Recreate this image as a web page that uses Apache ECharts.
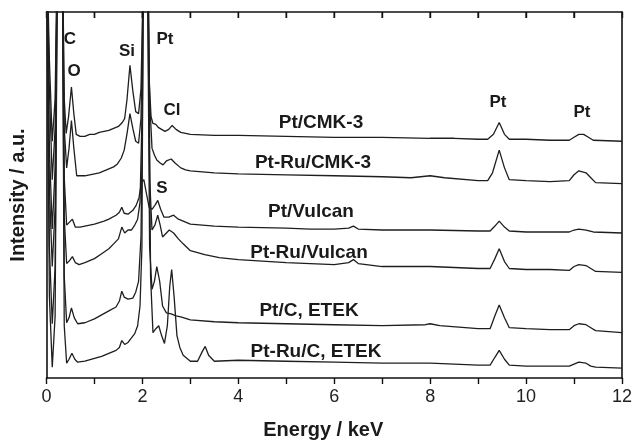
<!DOCTYPE html>
<html><head><meta charset="utf-8">
<script src="https://cdn.jsdelivr.net/npm/echarts@6/dist/echarts.min.js"></script>
<style>html,body{margin:0;padding:0;background:#fff}#c{width:635px;height:445px}</style>
</head><body><div id="c"></div>
<script>
// Energy (keV) and intensity (a.u., traces already vertically offset as in the figure)
const seriesNames = ['Pt/CMK-3','Pt-Ru/CMK-3','Pt/Vulcan','Pt-Ru/Vulcan','Pt/C, ETEK','Pt-Ru/C, ETEK'];

const ptCMK3 = [[0,450],[0.06,323],[0.12,240],[0.18,283],[0.23,450],[0.28,460],[0.33,450],[0.37,283],[0.41,248],[0.46,265],[0.52,295],[0.57,268],[0.62,247],[0.7,245],[0.8,245],[0.9,247],[1.0,247],[1.1,249],[1.2,250],[1.3,251],[1.4,253],[1.5,255],[1.58,259],[1.63,263],[1.68,283],[1.74,317],[1.8,291],[1.86,270],[1.92,268],[1.97,293],[2.0,363],[2.02,450],[2.1,450],[2.14,303],[2.18,265],[2.22,258],[2.28,257],[2.33,254],[2.4,252],[2.47,250],[2.55,252],[2.62,256],[2.7,252],[2.8,249],[2.9,248],[3.0,247],[3.5,246],[4.0,246],[5.0,245],[6.0,244],[7.0,244],[8.0,243],[8.5,243],[9.0,242],[9.2,242],[9.32,247],[9.44,259],[9.55,247],[9.65,242],[10.0,242],[10.5,241],[10.9,241],[11.0,244],[11.1,247],[11.2,247],[11.3,244],[11.4,241],[12.0,240]];

const ptRuCMK3 = [[0,450],[0.06,293],[0.12,201],[0.18,253],[0.23,450],[0.28,460],[0.33,450],[0.37,253],[0.42,213],[0.47,233],[0.52,261],[0.57,233],[0.63,205],[0.7,205],[0.8,205],[0.9,206],[1.0,207],[1.1,208],[1.2,210],[1.3,212],[1.4,214],[1.48,217],[1.56,223],[1.62,231],[1.68,248],[1.74,268],[1.8,253],[1.86,240],[1.92,238],[1.97,263],[2.0,343],[2.02,450],[2.1,450],[2.15,283],[2.2,233],[2.25,226],[2.3,221],[2.37,218],[2.43,216],[2.5,220],[2.6,222],[2.68,218],[2.8,213],[2.9,211],[3.0,210],[3.5,208],[4.0,207],[5.0,206],[6.0,205],[7.0,204],[7.6,203],[8.0,205],[8.3,203],[9.0,200],[9.2,200],[9.3,208],[9.44,231],[9.55,213],[9.65,201],[10.0,200],[10.5,199],[10.9,200],[11.0,206],[11.1,210],[11.25,208],[11.35,203],[11.45,198],[12.0,197]];

const ptVulcan = [[0,450],[0.06,233],[0.12,151],[0.18,213],[0.23,450],[0.28,460],[0.33,450],[0.37,203],[0.42,155],[0.48,158],[0.54,161],[0.6,153],[0.7,153],[0.8,154],[1.0,156],[1.2,159],[1.3,161],[1.45,165],[1.52,168],[1.57,173],[1.62,167],[1.7,166],[1.8,170],[1.87,175],[1.93,183],[1.98,198],[2.03,201],[2.08,188],[2.14,173],[2.2,171],[2.26,175],[2.32,180],[2.38,171],[2.45,163],[2.55,163],[2.65,165],[2.75,161],[2.85,159],[3.0,156],[3.5,154],[4.0,153],[5.0,152],[5.5,151],[6.0,151],[6.3,152],[6.4,154],[6.5,151],[7.0,150],[8.0,150],[9.0,149],[9.25,149],[9.35,154],[9.44,159],[9.55,153],[9.65,149],[10.0,148],[10.5,148],[10.9,148],[11.0,150],[11.1,151],[11.25,150],[11.4,148],[12.0,147]];

const ptRuVulcan = [[0,450],[0.06,193],[0.12,113],[0.18,173],[0.23,450],[0.28,460],[0.33,450],[0.37,163],[0.42,116],[0.48,119],[0.54,123],[0.6,117],[0.68,115],[0.8,117],[1.0,121],[1.15,126],[1.3,131],[1.4,136],[1.5,141],[1.57,153],[1.63,147],[1.7,150],[1.77,150],[1.84,155],[1.9,161],[1.95,178],[2.0,283],[2.02,450],[2.1,450],[2.15,203],[2.2,150],[2.26,155],[2.32,165],[2.37,155],[2.42,143],[2.5,147],[2.56,150],[2.65,147],[2.75,141],[2.85,136],[3.0,129],[3.3,125],[3.6,122],[4.0,120],[5.0,117],[5.5,116],[6.0,115],[6.3,117],[6.4,120],[6.5,116],[7.0,113],[8.0,113],[9.0,111],[9.25,111],[9.35,121],[9.44,131],[9.55,118],[9.65,111],[10.0,110],[10.5,110],[10.9,109],[11.0,113],[11.1,115],[11.25,114],[11.35,111],[11.45,108],[12.0,107]];

const ptCETEK = [[0,450],[0.06,133],[0.12,55],[0.18,113],[0.23,450],[0.28,460],[0.33,450],[0.37,103],[0.42,56],[0.47,61],[0.52,71],[0.58,61],[0.65,55],[0.8,56],[1.0,60],[1.15,64],[1.3,68],[1.45,72],[1.52,78],[1.57,88],[1.62,82],[1.7,80],[1.8,81],[1.86,87],[1.92,98],[1.97,143],[2.0,263],[2.02,450],[2.1,450],[2.15,133],[2.2,90],[2.25,98],[2.3,113],[2.36,98],[2.42,73],[2.5,66],[2.6,65],[2.7,63],[2.8,62],[3.0,59],[3.5,57],[4.0,56],[5.0,55],[6.0,54],[7.0,53],[7.9,54],[8.0,55],[8.2,53],[9.0,50],[9.25,50],[9.35,63],[9.44,74],[9.55,61],[9.65,51],[10.0,50],[10.5,49],[10.9,49],[11.0,53],[11.1,55],[11.25,54],[11.35,51],[11.45,48],[12.0,46]];

const ptRuCETEK = [[0,450],[0.06,83],[0.12,11],[0.18,63],[0.23,450],[0.28,460],[0.33,450],[0.37,53],[0.42,15],[0.47,19],[0.53,25],[0.59,19],[0.65,16],[0.8,17],[1.0,20],[1.15,22],[1.3,25],[1.45,28],[1.52,31],[1.57,38],[1.63,34],[1.7,36],[1.76,40],[1.84,45],[1.9,53],[1.95,73],[1.99,133],[2.02,450],[2.12,450],[2.17,103],[2.22,46],[2.28,50],[2.34,53],[2.4,43],[2.46,35],[2.52,53],[2.57,93],[2.61,110],[2.66,83],[2.72,43],[2.78,31],[2.85,23],[3.0,17],[3.15,17],[3.25,27],[3.31,32],[3.38,23],[3.5,17],[4.0,18],[5.0,17],[6.0,16],[7.0,15],[8.0,15],[9.0,13],[9.25,13],[9.35,21],[9.44,28],[9.55,19],[9.65,13],[10.0,12],[10.5,12],[10.9,12],[11.0,14],[11.1,16],[11.25,15],[11.35,12],[11.45,11],[12.0,10]];

const seriesData = [ptCMK3, ptRuCMK3, ptVulcan, ptRuVulcan, ptCETEK, ptRuCETEK];
const xTicks = [0,2,4,6,8,10,12];
const topTicks = [1,2,3,4,5,6,7,8,9,10,11];
const Y_MAX = 371;

const chart = echarts.init(document.getElementById('c'), null, {renderer:'canvas'});
const FONT = '"Liberation Sans", Arial, Helvetica, sans-serif';
const lbl = (text, x, y, size) => ({type:'text', x:x, y:y, z:100, style:{text:text, fontFamily:FONT, fontWeight:'bold', fontSize:size||18, fill:'#1a1a1a', textAlign:'center', textVerticalAlign:'middle'}});

const lineSeries = seriesData.map((d,i) => ({
  name:seriesNames[i], type:'line', data:d, showSymbol:false, symbol:'none',
  clip:true, lineStyle:{color:'#1e1e1e', width:1.3}, z:2
}));

chart.setOption({
  animation:false,
  backgroundColor:'#fff',
  grid:{left:46.5, right:12, top:12, bottom:62},
  xAxis:[{
    type:'value', min:0, max:12, interval:1,
    name:'Energy / keV', nameLocation:'middle', nameGap:42,
    nameTextStyle:{fontFamily:FONT, fontWeight:'bold', fontSize:20, color:'#1a1a1a', padding:[0,22,0,0]},
    axisLine:{show:true, onZero:false, lineStyle:{color:'#111', width:1.6}},
    axisTick:{show:true, length:6, lineStyle:{color:'#111', width:1.4}},
    axisLabel:{margin:10, fontFamily:FONT, fontSize:18, color:'#222',
      formatter:v => xTicks.indexOf(v) >= 0 ? String(v) : ''},
    splitLine:{show:false}
  },{
    type:'value', position:'top', min:0, max:12, interval:1,
    axisLine:{show:true, onZero:false, lineStyle:{color:'#111', width:1.6}},
    axisTick:{show:true, inside:true, length:6, lineStyle:{color:'#111', width:1.4}},
    axisLabel:{show:true, formatter:() => ''}, splitLine:{show:false}
  }],
  yAxis:[{
    type:'value', min:0, max:Y_MAX,
    name:'Intensity / a.u.', nameLocation:'middle', nameGap:18,
    nameTextStyle:{fontFamily:FONT, fontWeight:'bold', fontSize:20, color:'#1a1a1a'},
    axisLine:{show:true, onZero:false, lineStyle:{color:'#111', width:1.6}},
    axisTick:{show:false}, axisLabel:{show:false}, splitLine:{show:false}
  },{
    type:'value', position:'right', min:0, max:Y_MAX,
    axisLine:{show:true, onZero:false, lineStyle:{color:'#111', width:1.6}},
    axisTick:{show:false}, axisLabel:{show:false}, splitLine:{show:false}
  }],
  series: lineSeries.concat([{
    type:'custom', name:'topTicks', silent:true, z:5, clip:false,
    data: topTicks.map(v => [v, Y_MAX]),
    encode:{x:0, y:1},
    renderItem:(params, api) => {
      const p = api.coord([api.value(0), api.value(1)]);
      return {type:'line', shape:{x1:p[0], y1:p[1], x2:p[0], y2:p[1] + 6},
        style:{stroke:'#111', lineWidth:1.4}};
    }
  }]),
  graphic:[
    lbl('C', 70, 39, 17), lbl('O', 74, 71, 17), lbl('Si', 127, 51, 17), lbl('Pt', 165, 39, 17),
    lbl('Cl', 172, 110, 17), lbl('S', 162, 188, 17), lbl('Pt', 498, 102, 17), lbl('Pt', 582, 112, 17),
    lbl(seriesNames[0], 321, 123, 19), lbl(seriesNames[1], 313, 163, 19), lbl(seriesNames[2], 311, 212, 19),
    lbl(seriesNames[3], 309, 253, 19), lbl(seriesNames[4], 309, 311, 19), lbl(seriesNames[5], 316, 352, 19)
  ]
});
</script></body></html>
